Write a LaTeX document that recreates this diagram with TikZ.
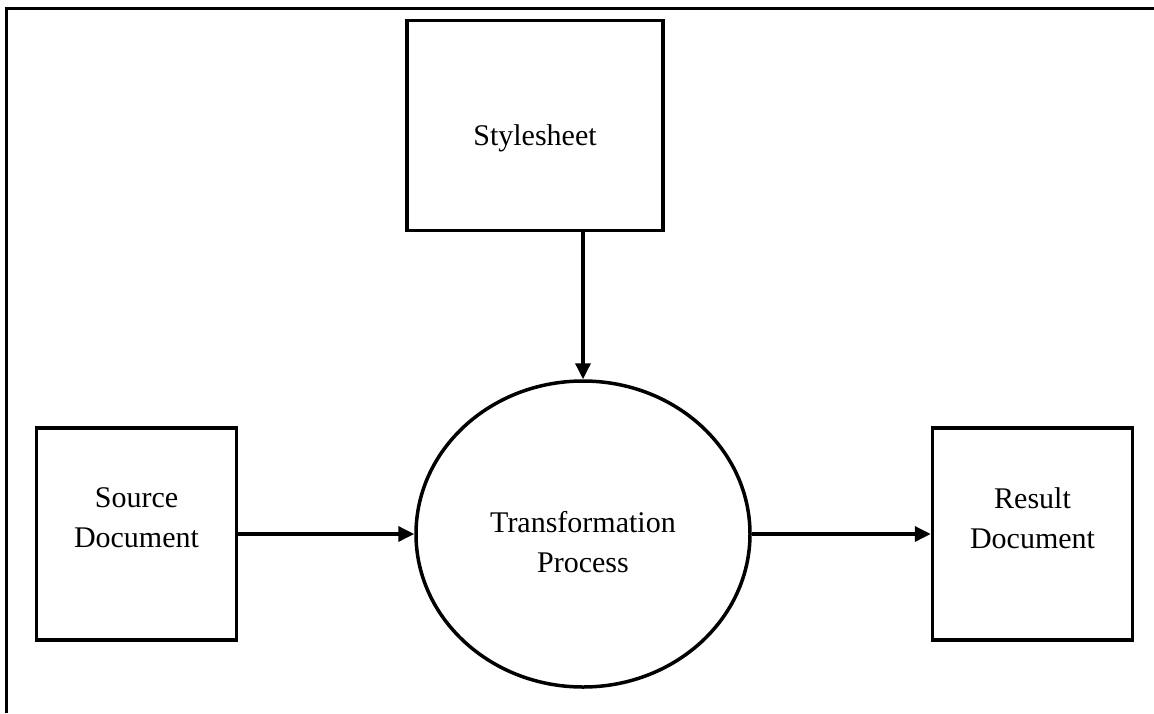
\documentclass[tikz,border=0pt]{standalone}
\usepackage{fontspec}
\setmainfont{Liberation Serif}
\usetikzlibrary{shapes.geometric,arrows.meta,positioning}
\tikzset{every node/.append style={align=center}}

\begin{document}
\begin{tikzpicture}[
    x=1pt, y=-1pt,
    doc/.style={draw, line width=3.5pt, minimum width=200pt, minimum height=212pt, inner sep=0pt},
    process/.style={draw, ellipse, line width=3.5pt, minimum width=334pt, minimum height=306pt, inner sep=0pt},
    doclabel/.style={font=\fontsize{30}{40}\selectfont, inner sep=0pt},
    flow/.style={line width=3.5pt, -{Triangle[length=16pt,width=15pt]}}
]
    \useasboundingbox (0,0) rectangle (1154,713);
    % outer frame
    \coordinate (frametl) at (6.5,8.5);
    \draw[line width=2.2pt] (1154,8.5) -- (frametl) -- (6.5,713);

    % Stylesheet
    \node[doc, minimum width=256pt, minimum height=210pt,
          label={[doclabel, name=stylesheettext, yshift=-13pt]center:Stylesheet}] (stylesheet) at (535,125.5) {};

    % Source Document
    \node[doc, label={[doclabel, name=sourcetext, yshift=16pt]center:Source\\Document}] (source) at (136.5,534) {};

    % Transformation Process
    \node[process, label={[doclabel, name=transformtext, yshift=-8pt]center:Transformation\\Process}] (transform) at (583,534) {};

    % Result Document
    \node[doc, label={[doclabel, name=resulttext, yshift=16pt]center:Result\\Document}] (result) at (1032.5,534) {};

    % Flows
    \draw[flow] (transform.north |- stylesheet.south) -- (transform.north);
    \draw[flow] (source.east) -- (transform.west);
    \draw[flow] (transform.east) -- (result.west);
\end{tikzpicture}
\end{document}
